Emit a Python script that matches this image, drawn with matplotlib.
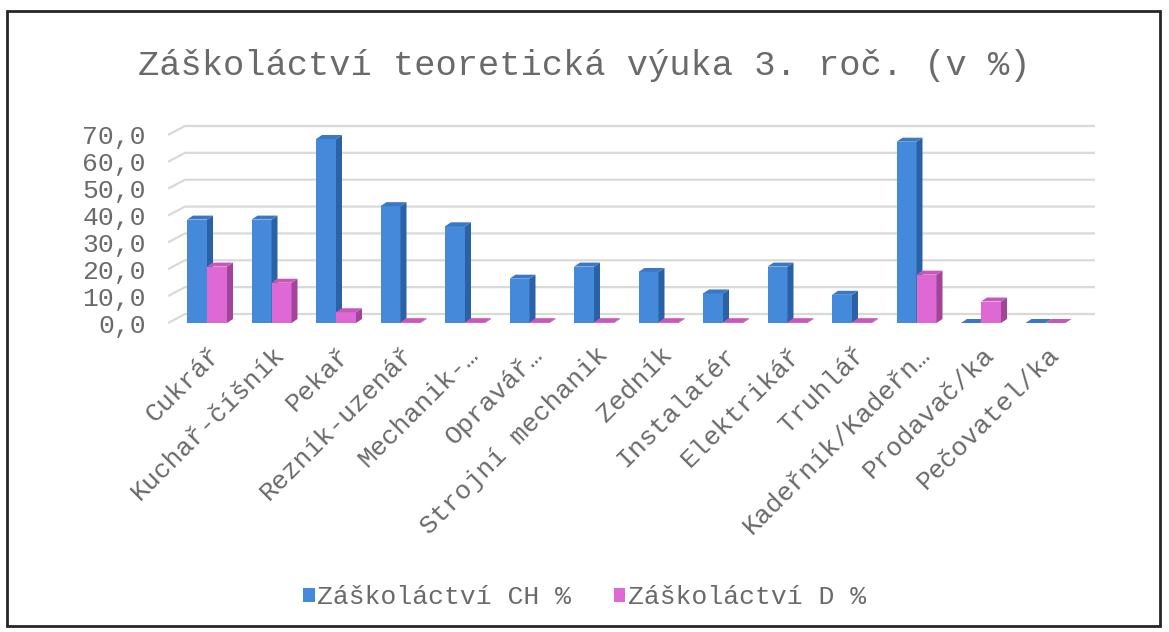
import matplotlib
matplotlib.use('Agg')
import matplotlib.pyplot as plt
from matplotlib.patches import Rectangle, Polygon

# ===== DATA =====
categories = ["Cukrář", "Kuchař-číšník", "Pekař", "Rezník-uzenář", "Mechanik-…",
              "Opravář…", "Strojní mechanik", "Zedník", "Instalatér", "Elektrikář",
              "Truhlář", "Kadeřník/Kadeřn…", "Prodavač/ka", "Pečovatel/ka"]
ch_values = [38.5, 38.5, 68.5, 43.5, 36.0, 16.5, 21.0, 19.0, 11.0, 21.0, 10.5, 67.5, 0.0, 0.0]
d_values = [21.0, 15.0, 4.0, 0.3, 0.3, 0.3, 0.3, 0.3, 0.3, 0.3, 0.3, 18.0, 8.0, 0.0]
yticks = [0, 10, 20, 30, 40, 50, 60, 70]
series_names = ["Záškoláctví CH %", "Záškoláctví D %"]
title = "Záškoláctví teoretická výuka 3. roč. (v %)"

# ===== STYLE =====
FONT = "Liberation Mono"
TXT = "#6A6A6A"
BLUE = ("#4589DA", "#2B62A6", "#3A78C4")   # front, side, top
PINK = ("#DE68D4", "#A2459A", "#C658BC")
GRID = "#D9D9D9"

W, H = 1169, 632
fig = plt.figure(figsize=(W / 100, H / 100), dpi=100)
fig.patch.set_facecolor("white")

# px -> data: x = (px - 207) / 64.5, v = (323 - py) / 2.686
px_l, px_r, py_t, py_b = 168, 1095, 118, 335
ax = fig.add_axes([px_l / W, 1 - py_b / H, (px_r - px_l) / W, (py_b - py_t) / H])
xl = ((px_l - 207) / 64.5, (px_r - 207) / 64.5)
yl = ((323 - py_b) / 2.686, (323 - py_t) / 2.686)
ax.set_xlim(*xl)
ax.set_ylim(*yl)
for s in ax.spines.values():
    s.set_visible(False)
ax.patch.set_alpha(0)

# perspektywa
dx_back, dy_back = 17 / 64.5, 9 / 2.686
dx_bar, dy_bar = 6 / 64.5, 4 / 2.686
bw = 20 / 64.5

# gridlines (back wall + left diagonal)
for v in yticks:
    ax.plot([xl[0], xl[0] + dx_back, xl[1]], [v, v + dy_back, v + dy_back],
            color=GRID, lw=1.6, zorder=1, solid_capstyle='butt')

def bar3d(x0, v, cols):
    f, sd, tp = cols
    ax.add_patch(Rectangle((x0, 0), bw, v, facecolor=f, edgecolor='none', zorder=3))
    ax.add_patch(Polygon([(x0 + bw, 0), (x0 + bw + dx_bar, dy_bar),
                          (x0 + bw + dx_bar, v + dy_bar), (x0 + bw, v)],
                         closed=True, facecolor=sd, edgecolor='none', zorder=3))
    ax.add_patch(Polygon([(x0, v), (x0 + dx_bar, v + dy_bar),
                          (x0 + bw + dx_bar, v + dy_bar), (x0 + bw, v)],
                         closed=True, facecolor=tp, edgecolor='none', zorder=3))

for i in range(len(categories)):
    bar3d(i - bw, ch_values[i], BLUE)
    bar3d(i, d_values[i], PINK)

# osie
ax.set_yticks(yticks)
ax.set_yticklabels([f"{v:.1f}".replace('.', ',') for v in yticks],
                   fontfamily=FONT, fontsize=19, color=TXT)
ax.tick_params(axis='y', length=0, pad=16)
ax.set_xticks([i + 0.02 for i in range(len(categories))])
ax.set_xticklabels(categories, rotation=45, ha='right', va='top', rotation_mode='anchor',
                   fontfamily=FONT, fontsize=19, color=TXT)
ax.tick_params(axis='x', length=0, pad=5)

fig.text(0.5, 1 - 65 / H, title, ha='center', va='center',
         fontfamily=FONT, fontsize=25.5, color=TXT)

handles = [Rectangle((0, 0), 1, 1, facecolor=BLUE[0]), Rectangle((0, 0), 1, 1, facecolor=PINK[0])]
leg = fig.legend(handles, series_names, loc='center', bbox_to_anchor=(0.5, 1 - 597 / H),
                 ncol=2, frameon=False, handlelength=0.45, handleheight=0.45,
                 handletextpad=0.1, columnspacing=1.6,
                 prop={'family': FONT, 'size': 19})
for t in leg.get_texts():
    t.set_color(TXT)

# ramka
fig.add_artist(Rectangle((7 / W, 1 - 626 / H), (1160 - 7) / W, (626 - 11) / H,
                         transform=fig.transFigure, fill=False, edgecolor="#262626", lw=2))

fig.savefig("out.png", dpi=100, facecolor="white")
